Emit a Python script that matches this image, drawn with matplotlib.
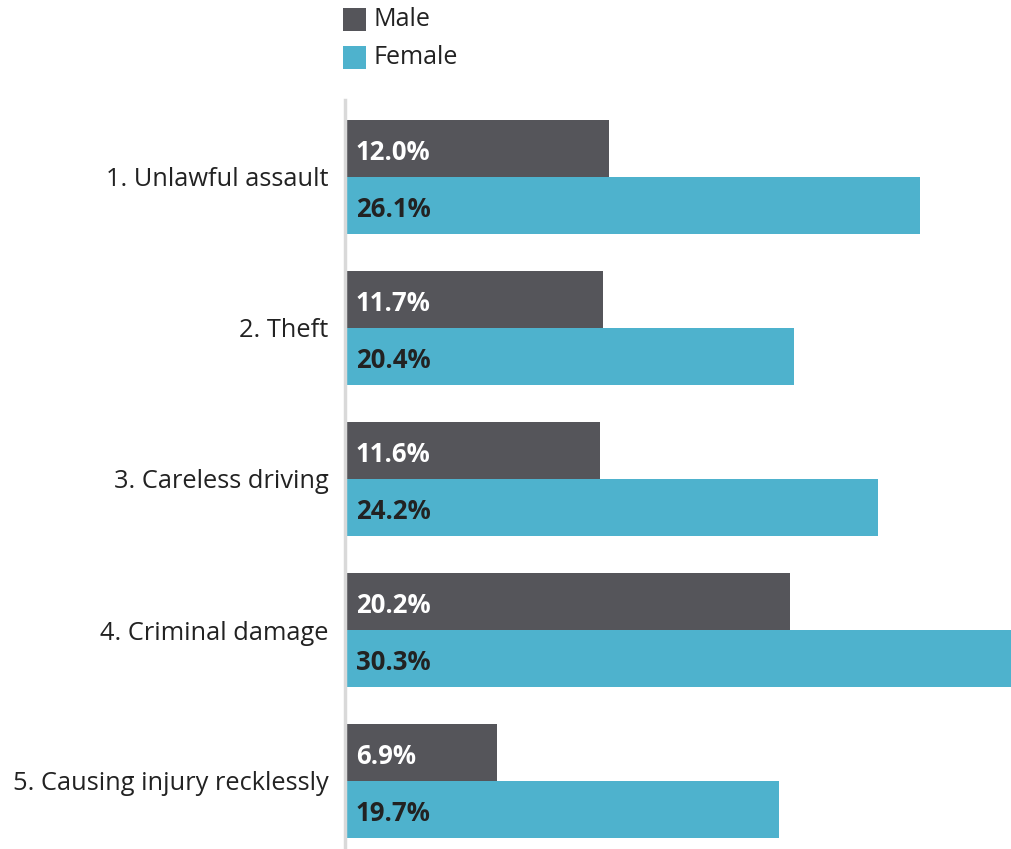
import matplotlib
matplotlib.use("Agg")
import matplotlib.pyplot as plt
from matplotlib.patches import Rectangle

categories = ["1. Unlawful assault", "2. Theft", "3. Careless driving",
              "4. Criminal damage", "5. Causing injury recklessly"]
male = [12.0, 11.7, 11.6, 20.2, 6.9]
female = [26.1, 20.4, 24.2, 30.3, 19.7]
series_names = ["Male", "Female"]

MALE_C = "#55555a"
FEMALE_C = "#4eb2cd"
FONT = ["Open Sans", "DejaVu Sans"]

W, H = 1012, 849
fig = plt.figure(figsize=(W / 100, H / 100), dpi=100)
ax_left, ax_top, ax_bottom = 345, 100, 849
ax = fig.add_axes([ax_left / W, 0, 1 - ax_left / W, (H - ax_top) / H])

spacing = 151.0
bar_h = 57.0 / spacing
pos = list(range(len(categories)))

ax.barh([p - bar_h / 2 for p in pos], male, height=bar_h, color=MALE_C, align="center")
ax.barh([p + bar_h / 2 for p in pos], female, height=bar_h, color=FEMALE_C, align="center")

ax.set_xlim(0, max(female))
ax.set_ylim((ax_bottom - 177) / spacing, (ax_top - 177) / spacing)

off = 0.5
for p, m, f in zip(pos, male, female):
    ax.text(off, p - bar_h / 2 + 0.025, f"{m:.1f}%", color="white", fontsize=18.5,
            fontweight="bold", va="center", ha="left", family=FONT)
    ax.text(off, p + bar_h / 2 + 0.025, f"{f:.1f}%", color="#222222", fontsize=18.5,
            fontweight="bold", va="center", ha="left", family=FONT)

ax.set_yticks(pos)
ax.set_yticklabels(categories, fontsize=18.3, family=FONT, color="#222222")
ax.tick_params(axis="y", length=0, pad=12)
ax.set_xticks([])
for s in ["top", "right", "bottom"]:
    ax.spines[s].set_visible(False)
ax.spines["left"].set_color("#d9d9d9")
ax.spines["left"].set_linewidth(2.5)

# legend drawn in figure pixels
for i, (name, col) in enumerate(zip(series_names, [MALE_C, FEMALE_C])):
    y0 = 8 + 38 * i
    fig.add_artist(Rectangle((343 / W, 1 - (y0 + 23) / H), 23 / W, 23 / H,
                             transform=fig.transFigure, color=col, lw=0))
    fig.text(374 / W, 1 - (y0 + 11.5) / H, name, fontsize=18, family=FONT,
             color="#222222", va="center", ha="left")

fig.savefig("out.png", dpi=100)
